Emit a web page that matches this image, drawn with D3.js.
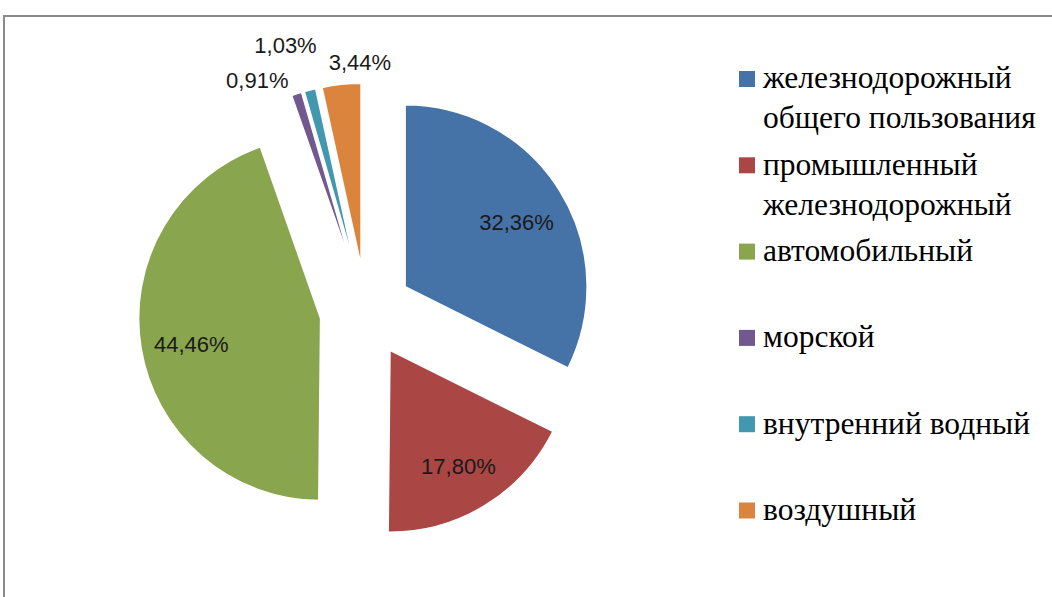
<!DOCTYPE html>
<html>
<head>
<meta charset="utf-8">
<script src="https://cdn.jsdelivr.net/npm/d3@7"></script>
<style>
  html, body { margin: 0; padding: 0; background: #fff; }
  svg { display: block; }
</style>
</head>
<body>
<div class="pie-container"></div>
<script>
// ---- data ----
const categories = [
  "железнодорожный\nобщего пользования",
  "промышленный\nжелезнодорожный",
  "автомобильный",
  "морской",
  "внутренний водный",
  "воздушный"
];
const shares = [32.36, 17.80, 44.46, 0.91, 1.03, 3.44];
const colors = ["#4572A7", "#AA4643", "#89A54E", "#71588F", "#4198AF", "#DB843D"];

// ---- layout ----
const outerW = 1052,
  outerH = 597;

const cx = 366,
  cy = 311,
  radius = 182,
  explode = 46;

const ru = d3.formatLocale({ decimal: ",", thousands: " ", grouping: [3], currency: ["", " ₽"] });
const formatPct = d => `${ru.format(".2f")(d)}%`;

// small slices get their label outside, nudged apart like excel does
const outsideLimit = 5;
const labelNudge = { 3: [-35, 0], 4: [-21, -31], 5: [20, -8] };

const container = d3.select('.pie-container');

const svg = container.append('svg')
  .attr('width', outerW)
  .attr('height', outerH);

// chart frame
svg.append('rect')
  .attr('x', 4)
  .attr('y', 16)
  .attr('width', outerW + 20)
  .attr('height', outerH + 20)
  .attr('fill', 'none')
  .attr('stroke', '#8a8a8a')
  .attr('stroke-width', 2);

const pie = d3.pie()
  .sort(null)
  .value(d => d);

const arcs = pie(shares);

const arc = d3.arc()
  .innerRadius(0)
  .outerRadius(radius);

const mid = d => (d.startAngle + d.endAngle) / 2;
const offset = (d, r) => [r * Math.sin(mid(d)), -r * Math.cos(mid(d))];

const g = svg.append('g')
  .attr('transform', `translate(${cx}, ${cy})`);

const slice = g.selectAll('g.slice')
  .data(arcs)
  .enter()
  .append('g')
  .attr('class', 'slice')
  .attr('transform', d => `translate(${offset(d, explode)})`);

slice.append('path')
  .attr('d', arc)
  .attr('fill', (d, i) => colors[i])
  .attr('stroke', '#fff')
  .attr('stroke-width', 1.5)
  .attr('stroke-linejoin', 'round');

// labels
g.selectAll('text.pct')
  .data(arcs)
  .enter()
  .append('text')
  .attr('class', 'pct')
  .attr('transform', (d, i) => {
    let p;
    if (d.data < outsideLimit) {
      p = offset(d, radius + explode + 14);
      const n = labelNudge[i] || [0, 0];
      p = [p[0] + n[0], p[1] + n[1]];
    } else {
      const o = offset(d, explode);
      const c = offset(d, radius * 0.72);
      p = [o[0] + c[0], o[1] + c[1] + 4];
    }
    return `translate(${p})`;
  })
  .attr('text-anchor', 'middle')
  .attr('dy', '0.35em')
  .style('font-family', '"Liberation Sans"')
  .style('font-size', '22px')
  .style('fill', '#1a1a1a')
  .text(d => formatPct(d.data));

// legend
const legendX = 739,
  legendY = 79,
  legendStep = 86.3,
  lineH = 40;

const legend = svg.append('g')
  .selectAll('g')
  .data(categories)
  .enter()
  .append('g')
  .attr('transform', (d, i) => `translate(${legendX}, ${legendY + i * legendStep})`);

legend.append('rect')
  .attr('x', 0)
  .attr('y', -8)
  .attr('width', 16)
  .attr('height', 16)
  .attr('fill', (d, i) => colors[i]);

legend.selectAll('text')
  .data(d => d.split('\n'))
  .enter()
  .append('text')
  .attr('x', 24)
  .attr('y', (d, j) => j * lineH)
  .attr('dy', '0.3em')
  .style('font-family', '"Liberation Serif"')
  .style('font-size', '31.5px')
  .style('fill', '#000')
  .text(d => d);
</script>
</body>
</html>
